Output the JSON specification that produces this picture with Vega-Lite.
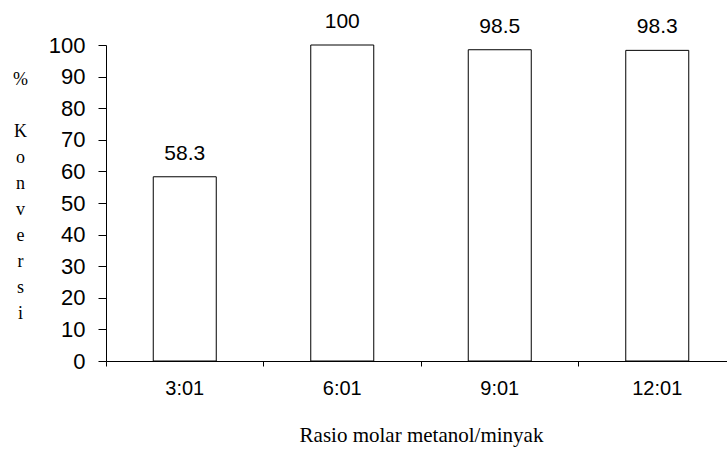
{
  "$schema": "https://vega.github.io/schema/vega-lite/v6.json",
  "autosize": {"type": "none"},
  "padding": {"left": 106, "top": 45, "right": 0, "bottom": 95},
  "width": 621,
  "height": 316,
  "background": "white",
  "config": {
    "view": {"stroke": null},
    "axis": {
      "grid": false,
      "domainColor": "black",
      "domainWidth": 1,
      "tickColor": "black",
      "tickWidth": 1,
      "labelColor": "black",
      "labelFont": "Liberation Sans",
      "titleColor": "black",
      "titleFont": "Liberation Serif",
      "titleFontWeight": "normal"
    }
  },
  "data": {
    "values": [
      {"rasio": "3:01", "konversi": 58.3},
      {"rasio": "6:01", "konversi": 100},
      {"rasio": "9:01", "konversi": 98.5},
      {"rasio": "12:01", "konversi": 98.3}
    ]
  },
  "encoding": {
    "x": {
      "field": "rasio",
      "type": "nominal",
      "sort": null,
      "scale": {"paddingInner": 0, "paddingOuter": 0, "range": [0, 630]},
      "axis": {
        "title": "Rasio molar metanol/minyak",
        "titleFontSize": 21,
        "titlePadding": 26,
        "labelAngle": 0,
        "labelFontSize": 20,
        "labelPadding": 12,
        "tickSize": 5,
        "bandPosition": 0
      }
    },
    "y": {
      "field": "konversi",
      "type": "quantitative",
      "scale": {"domain": [0, 100], "nice": false},
      "axis": {
        "title": ["%", "\u2800", "K", "o", "n", "v", "e", "r", "s", "i"],
        "titleAngle": 0,
        "titleAlign": "center",
        "titleBaseline": "top",
        "titleFontSize": 18,
        "titleLineHeight": 26,
        "titleX": -86,
        "titleY": 25,
        "values": [0, 10, 20, 30, 40, 50, 60, 70, 80, 90, 100],
        "labelFontSize": 22,
        "labelPadding": 13,
        "tickSize": 8
      }
    }
  },
  "layer": [
    {
      "mark": {
        "type": "bar",
        "width": {"band": 0.4},
        "fill": "white",
        "stroke": "black",
        "strokeWidth": 1
      }
    },
    {
      "mark": {
        "type": "text",
        "baseline": "alphabetic",
        "dy": -17,
        "font": "Liberation Sans",
        "fontSize": 21,
        "color": "black"
      },
      "encoding": {
        "text": {"field": "konversi", "type": "quantitative"}
      }
    }
  ]
}
